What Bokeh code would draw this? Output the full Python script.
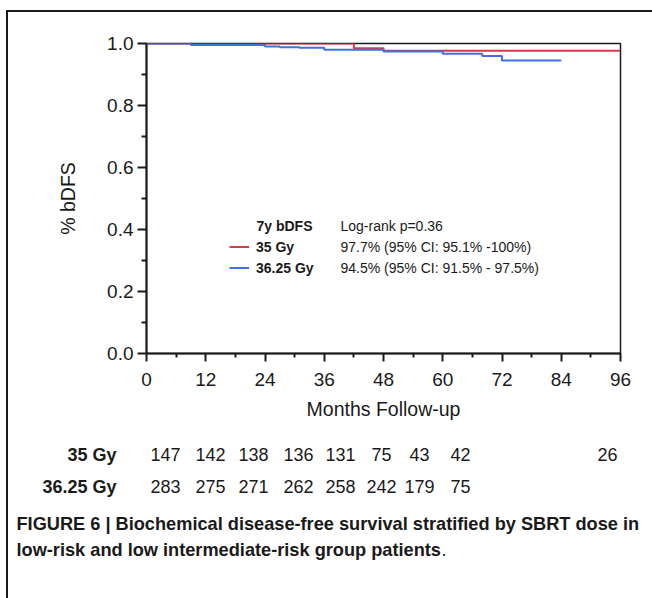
from bokeh.plotting import figure
from bokeh.layouts import column, row
from bokeh.models import (Range1d, FixedTicker, PrintfTickFormatter, Label, Legend,
                          LegendItem)
from bokeh.embed import file_html
from bokeh.resources import INLINE

# ---------------- data ----------------
months_35 = [0, 42, 48, 96]
surv_35 = [1.0, 0.985, 0.977, 0.977]
months_3625 = [0, 9, 24, 27, 31, 36, 48, 60, 68, 72, 84]
surv_3625 = [1.0, 0.995, 0.990, 0.988, 0.986, 0.980, 0.974, 0.967, 0.960, 0.945, 0.945]
x_ticks = [0, 12, 24, 36, 48, 60, 72, 84, 96]
x_minor = [6, 18, 30, 42, 54, 66, 78, 90]
y_ticks = [0.0, 0.2, 0.4, 0.6, 0.8, 1.0]
y_minor = [0.1, 0.3, 0.5, 0.7, 0.9]
groups = ["35 Gy", "36.25 Gy"]
at_risk_35 = [147, 142, 138, 136, 131, 75, 43, 42, 26]
at_risk_3625 = [283, 275, 271, 262, 258, 242, 179, 75]
bdfs_7y = ["97.7% (95% CI: 95.1% -100%)", "94.5% (95% CI: 91.5% - 97.5%)"]
legend_title = "7y bDFS"
logrank = "Log-rank p=0.36"
caption_1 = "FIGURE 6 | Biochemical disease-free survival stratified by SBRT dose in"
caption_2 = "low-risk and low intermediate-risk group patients"

# ---------------- layout / style ----------------
W, H = 652, 598
OX, OY, BW = 6, 10, 2           # outer panel frame (left / top edge) and its width
CX, CY = OX + BW, OY + BW       # content origin
SPLIT = 430                     # page y where the table strip begins
FL, FR, FT, FB = 146, 620, 43, 353
RED = "#d93a4e"
BLUE = "#3f72de"
INK = "#1a1a1a"
FONT = "Liberation Sans"


def dx(px):
    return (px - FL) / (FR - FL) * 96.0


def dy(py):
    return (FB - py) / (FB - FT)


p = figure(width=W - CX, height=SPLIT - CY, x_range=Range1d(0, 96), y_range=Range1d(0, 1),
           output_backend="svg", toolbar_location=None,
           min_border_left=FL - CX, min_border_right=W - FR,
           min_border_top=FT - CY, min_border_bottom=SPLIT - FB)
p.background_fill_color = "white"
p.border_fill_color = "white"
p.grid.visible = False
p.outline_line_color = INK
p.outline_line_width = 1.5

for ax in (p.xaxis[0], p.yaxis[0]):
    ax.axis_line_color = INK
    ax.axis_line_width = 2
    ax.major_tick_line_color = INK
    ax.major_tick_line_width = 2
    ax.minor_tick_line_color = INK
    ax.minor_tick_line_width = 2
    ax.major_tick_in = 0
    ax.minor_tick_in = 0
    ax.major_label_text_font = FONT
    ax.major_label_text_font_size = "19px"
    ax.major_label_text_color = INK
    ax.axis_label_text_font = FONT
    ax.axis_label_text_font_size = "19.5px"
    ax.axis_label_text_font_style = "normal"
    ax.axis_label_text_color = INK

p.xaxis.ticker = FixedTicker(ticks=x_ticks, minor_ticks=x_minor)
p.xaxis.major_tick_out = 8
p.xaxis.minor_tick_out = 4
p.xaxis.major_label_standoff = 11
p.xaxis.axis_label = "Months Follow-up"
p.xaxis.axis_label_standoff = 9

p.yaxis.ticker = FixedTicker(ticks=y_ticks, minor_ticks=y_minor)
p.yaxis.formatter = PrintfTickFormatter(format="%.1f")
p.yaxis.major_tick_out = 9
p.yaxis.minor_tick_out = 5
p.yaxis.major_label_standoff = 4
p.yaxis.axis_label = "% bDFS"
p.yaxis.axis_label_standoff = 25

r35 = p.step(months_35, surv_35, mode="after", line_color=RED, line_width=2)
r3625 = p.step(months_3625, surv_3625, mode="after", line_color=BLUE, line_width=2)

legend = Legend(items=[LegendItem(label=groups[0], renderers=[r35]),
                       LegendItem(label=groups[1], renderers=[r3625])],
                location=(229 - FL, FB - 277),
                padding=0, margin=0, spacing=2, glyph_width=20, glyph_height=19,
                label_height=19, label_standoff=7,
                border_line_color=None, background_fill_alpha=0,
                label_text_font=FONT, label_text_font_size="14px",
                label_text_font_style="bold", label_text_color=INK)
p.add_layout(legend)


def add_text(fig, x, y, text, size="14px", style="normal", align="left", font=FONT):
    fig.add_layout(Label(x=x, y=y, text=text, text_font=font,
                         text_font_size=size, text_font_style=style,
                         text_align=align, text_baseline="middle", text_color=INK))


add_text(p, dx(256), dy(225), legend_title, style="bold")
add_text(p, dx(340), dy(225), logrank)
add_text(p, dx(340), dy(246), bdfs_7y[0])
add_text(p, dx(340), dy(267), bdfs_7y[1])

# ---------------- number-at-risk table and caption strip ----------------
q = figure(width=W - CX, height=H - SPLIT, x_range=Range1d(CX, W), y_range=Range1d(H, SPLIT),
           output_backend="svg", toolbar_location=None,
           min_border=0, min_border_left=0, min_border_right=0,
           min_border_top=0, min_border_bottom=0)
q.axis.visible = False
q.grid.visible = False
q.outline_line_color = None
q.background_fill_color = "white"
q.border_fill_color = "white"

col_px = [165, 210, 253, 298, 340, 381, 419, 460, 607]
row_py = [454, 486]
for r, (name, counts) in enumerate(zip(groups, [at_risk_35, at_risk_3625])):
    add_text(q, 116, row_py[r], name, size="18px", style="bold", align="right")
    for c, n in enumerate(counts):
        add_text(q, col_px[c], row_py[r], str(n), size="18px", align="center")

add_text(q, 16, 523, caption_1, size="18.2px", style="bold")
add_text(q, 16, 549, caption_2, size="18.2px", style="bold")
add_text(q, 441, 549, ".", size="18.2px")

layout = column(p, row(q, spacing=0), spacing=0,
                styles={"margin-left": f"{OX}px", "margin-top": f"{OY}px",
                        "border-left": f"{BW}px solid {INK}",
                        "border-top": f"{BW}px solid {INK}"})

open("out.html", "w").write(file_html(layout, INLINE))
